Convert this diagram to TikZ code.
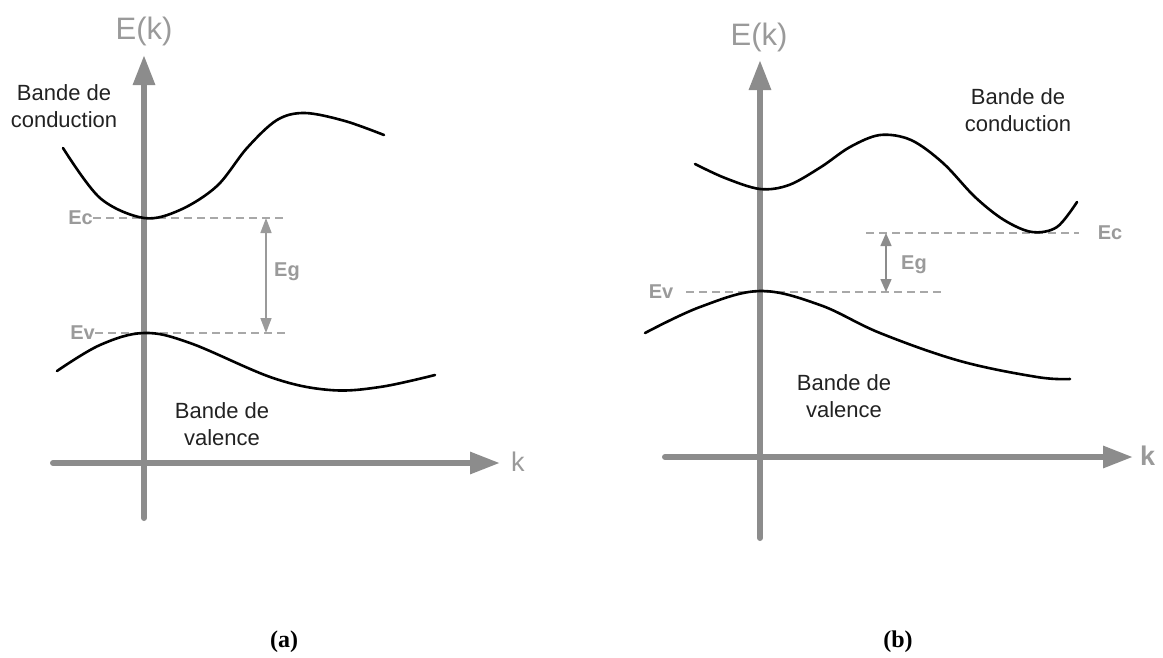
\documentclass[tikz,border=0pt]{standalone}
\usepackage{fontspec}
\setmainfont{Liberation Sans}
\newfontfamily\capserif{Liberation Serif}
\usetikzlibrary{arrows.meta}
\definecolor{axisgray}{HTML}{8C8C8C}
\definecolor{labgray}{HTML}{9A9A9A}
\definecolor{dashgray}{HTML}{A8A8A8}
\definecolor{gapgray}{HTML}{9A9A9A}
\definecolor{txt}{HTML}{222222}
\tikzset{
  axis/.style={line width=6pt, color=axisgray, line cap=round, -{Triangle[length=30pt,width=21pt]}},
  band/.style={line width=2.6pt, black, line cap=round},
  lvl/.style={line width=1.4pt, dashgray, dash pattern=on 8pt off 5pt},
  gap/.style={line width=1.5pt, gapgray, {Triangle[length=15pt,width=11pt]}-{Triangle[length=15pt,width=11pt]}},
  lbl/.style={text=labgray, font=\fontsize{20}{24}\selectfont\bfseries, inner sep=0pt},
  axlbl/.style={text=labgray, font=\fontsize{31}{36}\selectfont, inner sep=0pt},
  bandtxt/.style={text=txt, align=center, font=\fontsize{22}{26.5}\selectfont, inner sep=0pt},
  capt/.style={font=\capserif\bfseries\fontsize{24}{28}\selectfont, inner sep=0pt}
}
\begin{document}
\begin{tikzpicture}[x=1pt,y=-1pt]
\useasboundingbox (0,0) rectangle (1163,657);

% ---------------- panel (a) ----------------
\coordinate (aYb) at (144,518);
\coordinate (aYt) at (144,55);
\coordinate (aXl) at (53,463);
\coordinate (aXr) at (500,463);
\node[lbl, anchor=east] (aEc) at (93,218) {Ec};
\node[lbl, anchor=east] (aEv) at (95,333) {Ev};
\coordinate (aEcR) at (287,218);
\coordinate (aEvR) at (287,333);
\coordinate (aGt) at (266,218);
\coordinate (aGb) at (266,333);
\draw[lvl] (aEc.east) -- (aEcR);
\draw[lvl] (aEv.east) -- (aEvR);
\draw[gap] (aGt) -- (aGb);
\node[lbl, anchor=west] (aEg) at (274,272) {Eg};
\draw[axis] (aYb) -- (aYt);
\draw[axis] (aXl) -- (aXr);
\node[axlbl] (aE) at (144,31) {E(k)};
\node[axlbl, font=\fontsize{27}{30}\selectfont, anchor=west] (ak) at (511,462) {k};
\draw[band] plot[smooth, tension=0.55] coordinates {(63,148) (100,198) (144,218) (180,210) (217,186) (247,148) (277,120) (305,113) (345,121) (384,135)};
\draw[band] plot[smooth, tension=0.6] coordinates {(57,371) (100,345) (144,333) (190,343) (273,378) (330,390) (380,387) (435,375)};
\node[bandtxt] (aCB) at (64,106) {Bande de\\conduction};
\node[bandtxt] (aVB) at (222,424) {Bande de\\valence};
\node[capt] (acap) at (284,642) {(a)};

% ---------------- panel (b) ----------------
\coordinate (bYb) at (760,538);
\coordinate (bYt) at (760,60);
\coordinate (bXl) at (665,457);
\coordinate (bXr) at (1133,457);
\coordinate (bEcL) at (866,233);
\coordinate (bEcR) at (1079,233);
\coordinate (bEvL) at (686,292);
\coordinate (bEvR) at (943,292);
\coordinate (bGt) at (886,233);
\coordinate (bGb) at (886,292);
\draw[lvl] (bEcL) -- (bEcR);
\draw[lvl] (bEvL) -- (bEvR);
\draw[gap, color=axisgray, {Triangle[length=13pt,width=11pt]}-{Triangle[length=13pt,width=11pt]}] (bGt) -- (bGb);
\node[lbl] (bEc) at (1110,233) {Ec};
\node[lbl] (bEv) at (661,292) {Ev};
\node[lbl, anchor=west] (bEg) at (901,265) {Eg};
\draw[axis] (bYb) -- (bYt);
\draw[axis] (bXl) -- (bXr);
\node[axlbl] (bE) at (759,37) {E(k)};
\node[axlbl, font=\fontsize{27}{30}\selectfont\bfseries, anchor=west] (bk) at (1140,456) {k};
\draw[band] plot[smooth, tension=0.55] coordinates {(695,164) (725,178) (760,189) (789,185) (821,167) (850,147) (880,135) (911,140) (943,163) (975,197) (1004,220) (1032,232) (1057,227) (1077,202)};
\draw[band] plot[smooth, tension=0.6] coordinates {(645,333) (700,307) (760,291) (820,305) (880,333) (960,361) (1037,377) (1070,379)};
\node[bandtxt] (bCB) at (1018,110) {Bande de\\conduction};
\node[bandtxt] (bVB) at (844,396) {Bande de\\valence};
\node[capt] (bcap) at (898,642) {(b)};
\end{tikzpicture}
\end{document}
